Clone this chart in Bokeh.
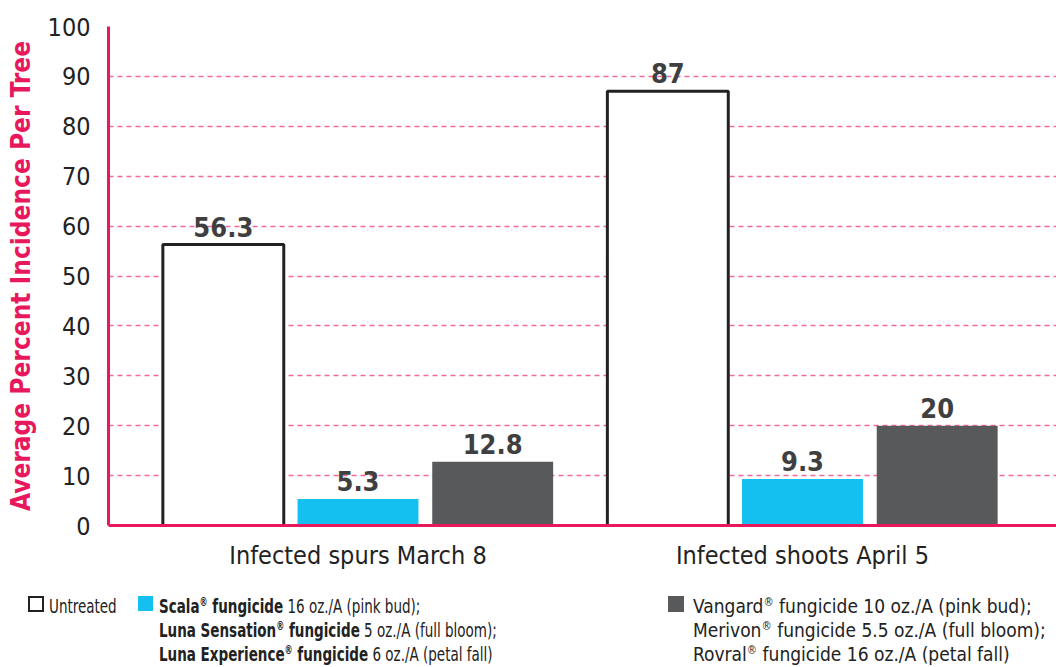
from bokeh.plotting import figure
from bokeh.models import ColumnDataSource, Range1d, FixedTicker, LabelSet, Div
from bokeh.transform import dodge
from bokeh.core.properties import value
from bokeh.layouts import column
from bokeh.embed import file_html
from bokeh.resources import INLINE

categories = ["Infected spurs March 8", "Infected shoots April 5"]
untreated = [56.3, 87]
scala = [5.3, 9.3]
vangard = [12.8, 20]
y_ticks = [0, 10, 20, 30, 40, 50, 60, 70, 80, 90, 100]

FONT = "DejaVu Sans Condensed, DejaVu Sans, sans-serif"
PINK = "#E8185C"
GRID = "#F2699A"
BLUE = "#13C0F0"
GREY = "#58595B"

pos = [1, 2]
src = ColumnDataSource(dict(
    x=pos, untreated=untreated, scala=scala, vangard=vangard,
    lu=[f"{v:g}" for v in untreated],
    ls=[f"{v:g}" for v in scala],
    lv=[f"{v:g}" for v in vangard],
))

W, H = 1056, 575
p = figure(width=W, height=H, output_backend="svg", toolbar_location=None,
           x_range=Range1d(0.4387, 2.5714), y_range=Range1d(0, 100),
           min_border_left=108, min_border_right=0, min_border_top=26,
           min_border_bottom=H - 525)
p.outline_line_color = None
p.background_fill_color = "white"

OFF = 0.303
BW = 0.272
p.vbar(x=dodge("x", -OFF, range=p.x_range), top="untreated", width=BW, source=src,
       fill_color="white", line_color="#222222", line_width=3)
p.vbar(x=dodge("x", 0, range=p.x_range), top="scala", width=BW, source=src,
       fill_color=BLUE, line_color=None)
p.vbar(x=dodge("x", OFF, range=p.x_range), top="vangard", width=BW, source=src,
       fill_color=GREY, line_color=None)

for off, col, lab in [(-OFF, "untreated", "lu"), (0, "scala", "ls"), (OFF, "vangard", "lv")]:
    p.add_layout(LabelSet(x=dodge("x", off, range=p.x_range), y=col, text=lab, source=src,
                          y_offset=8, text_align="center", text_baseline="bottom",
                          text_font=value(FONT), text_font_style="bold",
                          text_font_size="27px", text_color="#3F3F3F"))

# axes
p.xaxis.ticker = FixedTicker(ticks=pos)
p.xaxis.major_label_overrides = {pos[i]: categories[i] for i in range(len(pos))}
p.xaxis.major_tick_line_color = None
p.xaxis.minor_tick_line_color = None
p.xaxis.axis_line_color = PINK
p.xaxis.axis_line_width = 3
p.xaxis.major_label_text_font = FONT
p.xaxis.major_label_text_font_size = "25px"
p.xaxis.major_label_text_color = "#222222"
p.xaxis.major_label_standoff = 9

p.yaxis.ticker = FixedTicker(ticks=y_ticks)
p.yaxis.major_tick_line_color = None
p.yaxis.minor_tick_line_color = None
p.yaxis.axis_line_color = PINK
p.yaxis.axis_line_width = 3
p.yaxis.major_label_text_font = FONT
p.yaxis.major_label_text_font_size = "25px"
p.yaxis.major_label_text_color = "#222222"
p.yaxis.major_label_standoff = 12
p.yaxis.axis_label = "Average Percent Incidence Per Tree"
p.yaxis.axis_label_text_font = FONT
p.yaxis.axis_label_text_font_style = "bold"
p.yaxis.axis_label_text_font_size = "26px"
p.yaxis.axis_label_text_color = PINK
p.yaxis.axis_label_standoff = 9

p.xgrid.grid_line_color = None
p.ygrid.grid_line_color = GRID
p.ygrid.grid_line_dash = "5 4"
p.ygrid.grid_line_width = 1.5

SUP = '<sup style="font-size:60%;line-height:0;vertical-align:0.6em;">®</sup>'
H_LEG = 667 - H
legend_html = f"""
<div style="position:relative;width:{W}px;height:{H_LEG}px;font-family:{FONT};line-height:24px;color:#222;">
  <div style="position:absolute;left:28px;top:21px;width:16px;height:16px;border:2px solid #222;box-sizing:border-box;"></div>
  <div style="position:absolute;left:49px;top:19px;white-space:nowrap;font-size:20px;transform:scaleX(0.75);transform-origin:0 0;">Untreated</div>
  <div style="position:absolute;left:138px;top:21px;width:15px;height:15px;background:{BLUE};"></div>
  <div style="position:absolute;left:159px;top:19px;white-space:nowrap;font-size:20px;transform:scaleX(0.75);transform-origin:0 0;">
    <b>Scala{SUP} fungicide</b> 16 oz./A (pink bud);<br>
    <b>Luna Sensation{SUP} fungicide</b> 5 oz./A (full bloom);<br>
    <b>Luna Experience{SUP} fungicide</b> 6 oz./A (petal fall)
  </div>
  <div style="position:absolute;left:668px;top:21px;width:16px;height:16px;background:{GREY};"></div>
  <div style="position:absolute;left:693px;top:19px;white-space:nowrap;font-size:19px;">
    Vangard{SUP} fungicide 10 oz./A (pink bud);<br>
    Merivon{SUP} fungicide 5.5 oz./A (full bloom);<br>
    Rovral{SUP} fungicide 16 oz./A (petal fall)
  </div>
</div>
"""
legend = Div(text=legend_html, width=W, height=H_LEG, margin=0)
layout = column(p, legend, spacing=0)

open("out.html", "w").write(file_html(layout, INLINE))
